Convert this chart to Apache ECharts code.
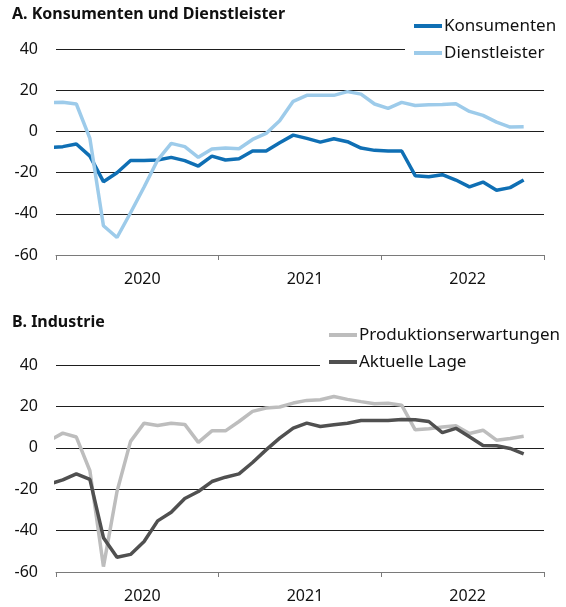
<!DOCTYPE html>
<html>
<head>
<meta charset="utf-8">
<script src="https://cdn.jsdelivr.net/npm/echarts@6/dist/echarts.min.js"></script>
<style>
    html, body { margin: 0; padding: 0; background: #fff; }
    #chart { width: 566px; height: 607px; }
</style>
</head>
<body>
<div id="chart"></div>
<script>
// Monate: Dez 2019 bis Nov 2022
var months = [
    '2019-12',
    '2020-01', '2020-02', '2020-03', '2020-04', '2020-05', '2020-06',
    '2020-07', '2020-08', '2020-09', '2020-10', '2020-11', '2020-12',
    '2021-01', '2021-02', '2021-03', '2021-04', '2021-05', '2021-06',
    '2021-07', '2021-08', '2021-09', '2021-10', '2021-11', '2021-12',
    '2022-01', '2022-02', '2022-03', '2022-04', '2022-05', '2022-06',
    '2022-07', '2022-08', '2022-09', '2022-10', '2022-11'
];
var yearLabels = ['2020', '2021', '2022'];
var yTicks = [-60, -40, -20, 0, 20, 40];

// A. Konsumenten und Dienstleister
var konsumenten = [
    -7.8,
    -7.4, -6.1, -12.0, -24.4, -20.1, -14.1, -14.1, -13.9, -12.6, -14.2, -16.8, -12.0,
    -13.9, -13.3, -9.5, -9.5, -5.5, -1.8, -3.4, -5.2, -3.6, -5.0, -8.1, -9.2,
    -9.5, -9.5, -21.5, -22.0, -21.0, -23.6, -26.9, -24.6, -28.6, -27.3, -23.6
];
var dienstleister = [
    14.0,
    14.1, 13.3, -3.4, -45.8, -51.5, -39.5, -27.0, -13.9, -5.8, -7.4, -12.6, -8.6,
    -8.1, -8.4, -3.9, -1.0, 5.2, 14.6, 17.5, 17.5, 17.5, 19.3, 18.1, 13.3,
    11.2, 14.1, 12.6, 12.9, 13.1, 13.4, 9.7, 7.8, 4.5, 2.1, 2.3
];

// B. Industrie
var produktion = [
    3.5,
    7.1, 5.2, -11.1, -57.4, -21.1, 3.1, 11.9, 10.8, 11.9, 11.3, 2.6, 8.2,
    8.2, 12.7, 17.6, 19.2, 19.7, 21.6, 22.9, 23.2, 24.8, 23.4, 22.3, 21.3,
    21.5, 20.6, 8.7, 9.2, 10.0, 10.6, 6.9, 8.5, 3.7, 4.5, 5.6
];
var aktuelleLage = [
    -17.5,
    -15.5, -12.6, -15.3, -43.4, -52.9, -51.5, -45.3, -35.3, -31.1, -24.5, -21.1, -16.3,
    -14.2, -12.6, -7.1, -1.0, 4.7, 9.5, 11.9, 10.3, 11.1, 11.9, 13.2, 13.2,
    13.2, 13.7, 13.5, 12.7, 7.3, 9.4, 5.3, 1.1, 1.0, -0.3, -2.9
];

var FONT = 'Noto Sans';

// Monatsmitte als Position auf der x-Achse (0 = Anfang 2020)
function monthPos(m) {
    var p = m.split('-');
    return (parseInt(p[0], 10) - 2020) * 12 + (parseInt(p[1], 10) - 1) + 0.5;
}

function toPairs(values) {
    var arr = [];
    for (var i = 0; i < values.length; i++) {
        arr.push([monthPos(months[i]), values[i]]);
    }
    return arr;
}

// Achsenlinie mit Jahresstrichen
function tickAxis(gridIndex) {
    return {
        type: 'value', gridIndex: gridIndex, position: 'bottom',
        min: 0, max: 36, interval: 12,
        axisLine: { show: true, onZero: false, lineStyle: { color: '#7a7a7a', width: 1 } },
        axisTick: { show: true, length: 5, lineStyle: { color: '#7a7a7a', width: 1 } },
        axisLabel: { show: false },
        splitLine: { show: false }
    };
}

// Jahreszahlen in der Mitte des Jahres
function labelAxis(gridIndex) {
    return {
        type: 'value', gridIndex: gridIndex, position: 'bottom',
        min: 0, max: 36, interval: 6,
        axisLine: { show: false, onZero: false },
        axisTick: { show: false },
        splitLine: { show: false },
        axisLabel: {
            fontSize: 16, color: '#111', fontFamily: FONT, margin: 16,
            padding: [0, 0, 0, 10],
            formatter: function (v) {
                if (v % 12 === 6) {
                    return yearLabels[(v - 6) / 12];
                }
                return '';
            }
        }
    };
}

function valueAxis(gridIndex) {
    return {
        type: 'value', gridIndex: gridIndex,
        min: yTicks[0], max: yTicks[yTicks.length - 1], interval: 20,
        axisLine: { show: false },
        axisTick: { show: false },
        axisLabel: { fontSize: 16, color: '#111', fontFamily: FONT, margin: 18 },
        splitLine: { show: true, lineStyle: { color: '#1e1e1e', width: 1 } }
    };
}

function lineSeries(name, values, color, axisIndex) {
    return {
        name: name, type: 'line',
        xAxisIndex: axisIndex, yAxisIndex: axisIndex / 2,
        data: toPairs(values),
        showSymbol: false, symbol: 'none',
        lineStyle: { color: color, width: 3.5 },
        itemStyle: { color: color },
        clip: true, animation: false
    };
}

function legendBox(left, top, names) {
    return {
        orient: 'vertical', left: left, top: top,
        padding: [4, 12, 4, 9],
        backgroundColor: '#fff',
        icon: 'rect', itemWidth: 28, itemHeight: 4, itemGap: 9,
        data: names,
        textStyle: { fontSize: 17, lineHeight: 18, color: '#111', fontFamily: FONT, padding: [0, 0, 0, -3] }
    };
}

var myChart = echarts.init(document.getElementById('chart'), null, { renderer: 'canvas' });
var option = {
    animation: false,
    backgroundColor: '#fff',
    textStyle: { fontFamily: FONT },
    title: [
        { text: 'A. Konsumenten und Dienstleister', left: 12, top: 6, padding: 0,
          textStyle: { fontSize: 16, fontWeight: 'bold', color: '#111', fontFamily: FONT } },
        { text: 'B. Industrie', left: 12, top: 314, padding: 0,
          textStyle: { fontSize: 16, fontWeight: 'bold', color: '#111', fontFamily: FONT } }
    ],
    legend: [
        legendBox(405, 13, ['Konsumenten', 'Dienstleister']),
        legendBox(320, 322, ['Produktionserwartungen', 'Aktuelle Lage'])
    ],
    grid: [
        { left: 56, right: 22, top: 49, height: 206 },
        { left: 56, right: 22, top: 365, height: 207 }
    ],
    xAxis: [tickAxis(0), labelAxis(0), tickAxis(1), labelAxis(1)],
    yAxis: [valueAxis(0), valueAxis(1)],
    series: [
        lineSeries('Konsumenten', konsumenten, '#0f6fb4', 0),
        lineSeries('Dienstleister', dienstleister, '#9dcbea', 0),
        lineSeries('Produktionserwartungen', produktion, '#bdbdbd', 2),
        lineSeries('Aktuelle Lage', aktuelleLage, '#505050', 2)
    ]
};
myChart.setOption(option);
</script>
</body>
</html>
